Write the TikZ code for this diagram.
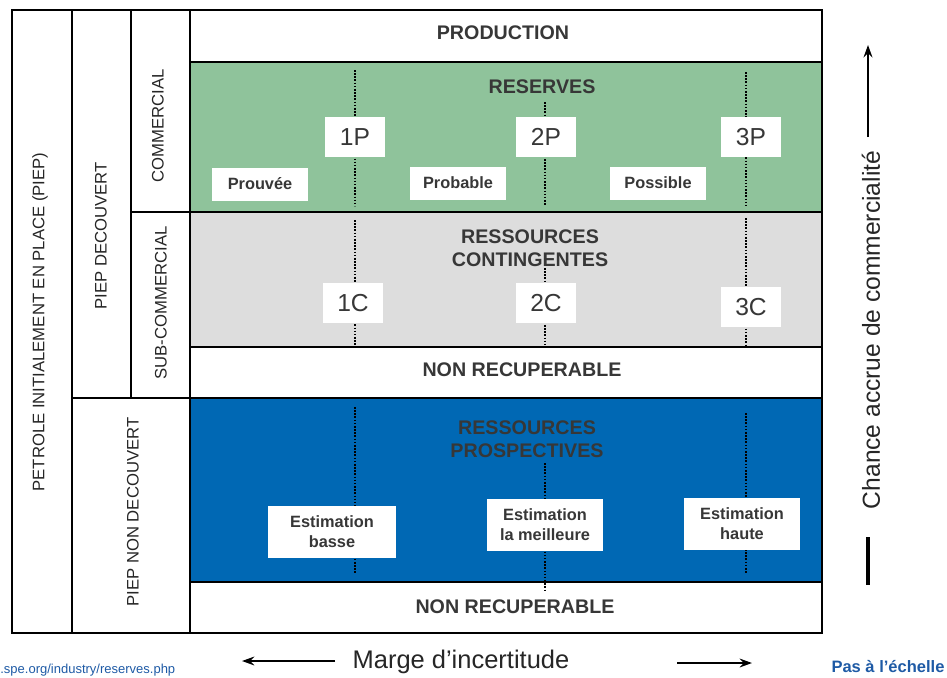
\documentclass[tikz,border=0pt]{standalone}
\usepackage{fontspec}
\setmainfont{Liberation Sans}
\usetikzlibrary{arrows.meta}
\definecolor{resgreen}{RGB}{143,195,155}
\definecolor{contgray}{RGB}{221,221,221}
\definecolor{prosblue}{RGB}{0,104,180}
\definecolor{headgray}{RGB}{55,55,55}
\definecolor{linkblue}{RGB}{30,90,165}
\tikzset{
  cellline/.style={line width=1.6pt},
  guide/.style={line width=0.9pt,dash pattern=on 0.9pt off 0.9pt},
  head/.style={font=\fontsize{11.2}{13}\selectfont\bfseries,text=headgray,align=center},
  side/.style={rotate=90,font=\fontsize{9.5}{11}\selectfont,text=black!85},
  levelbox/.style={fill=white,minimum width=1.2cm,minimum height=0.8cm,font=\fontsize{14}{16}\selectfont,text=headgray},
  catbox/.style={fill=white,minimum width=1.92cm,minimum height=0.66cm,font=\fontsize{9.3}{11}\selectfont\bfseries,text=headgray},
  estbox/.style={fill=white,minimum width=2.4cm,minimum height=1.04cm,align=center,font=\fontsize{9.3}{11.3}\selectfont\bfseries,text=headgray},
  axisarrow/.style={line width=1.1pt,-{Stealth[length=7pt,width=5pt]}}
}
\begin{document}
\begin{tikzpicture}[x=0.02cm,y=-0.02cm]
\useasboundingbox (0,0) rectangle (947,677);
% coloured bands
\fill[resgreen] (190,62) rectangle (822,212);
\fill[contgray] (190,212) rectangle (822,347);
\fill[prosblue] (190,398) rectangle (822,582);
% dotted level lines
\draw[guide] (355,70) -- (355,206);
\draw[guide] (545,102) -- (545,206);
\draw[guide] (746,72) -- (746,206);
\draw[guide] (355,220) -- (355,345);
\draw[guide] (545,268) -- (545,345);
\draw[guide] (746,218) -- (746,345);
\draw[guide] (355,407) -- (355,573);
\draw[guide] (545,463) -- (545,590);
\draw[guide] (746,413) -- (746,573);
% reserves
\node[head] (reserves) at (542,87) {RESERVES};
\node[levelbox] (p1) at (355,137) {1P};
\node[levelbox] (p2) at (546,137) {2P};
\node[levelbox] (p3) at (751,137) {3P};
\node[catbox] (prouvee) at (260,184) {Prouvée};
\node[catbox] (probable) at (458,183) {Probable};
\node[catbox] (possible) at (658,183) {Possible};
% contingent resources
\node[head] (contingent) at (530,248) {RESSOURCES\\CONTINGENTES};
\node[levelbox] (c1) at (353,303) {1C};
\node[levelbox] (c2) at (546,303) {2C};
\node[levelbox] (c3) at (751,307) {3C};
% prospective resources
\node[head] (prospect) at (527,439) {RESSOURCES\\PROSPECTIVES};
\node[estbox,minimum width=2.58cm] (low) at (332,532) {Estimation\\basse};
\node[estbox,minimum width=2.32cm] (best) at (545,525) {Estimation\\la meilleure};
\node[estbox,minimum width=2.34cm] (high) at (742,524) {Estimation\\haute};
% other rows
\node[head] (production) at (503,33) {PRODUCTION};
\node[head] (nonrec1) at (522,370) {NON RECUPERABLE};
\node[head] (nonrec2) at (515,607) {NON RECUPERABLE};
% grid
\draw[cellline] (12,10) rectangle (822,633);
\draw[cellline] (72,10) -- (72,633);
\draw[cellline] (131,10) -- (131,398);
\draw[cellline] (190,10) -- (190,633);
\draw[cellline] (131,212) -- (822,212);
\draw[cellline] (72,398) -- (822,398);
\draw[cellline] (190,62) -- (822,62);
\draw[cellline] (190,347) -- (822,347);
\draw[cellline] (190,582) -- (822,582);
% left labels
\node[side] (piep) at (40,322) {PETROLE INITIALEMENT EN PLACE (PIEP)};
\node[side] (found) at (101,236) {PIEP DECOUVERT};
\node[side] (commercial) at (158,126) {COMMERCIAL};
\node[side] (subcom) at (161,303) {SUB-COMMERCIAL};
\node[side] (notfound) at (133,512) {PIEP NON DECOUVERT};
% axes
\node[font=\fontsize{14.5}{16}\selectfont,text=black!85] (marge) at (461,662) {Marge d’incertitude};
\coordinate (mleft0) at (335,661);
\coordinate (mleft1) at (242,661);
\coordinate (mright0) at (677,663);
\coordinate (mright1) at (752,663);
\draw[axisarrow] (mleft0) -- (mleft1);
\draw[axisarrow] (mright0) -- (mright1);
\node[rotate=90,font=\fontsize{14}{16}\selectfont,text=black!85] (chance) at (871,330) {Chance accrue de commercialité};
\coordinate (cup0) at (868,137);
\coordinate (cup1) at (868,45);
\coordinate (clow0) at (868,537);
\coordinate (clow1) at (868,585);
\draw[axisarrow] (cup0) -- (cup1);
\draw[line width=1.8pt] (clow0) -- (clow1);
\node[anchor=west,inner sep=0pt,font=\fontsize{7.4}{9}\selectfont,text=linkblue] (source) at (0,670) {.spe.org/industry/reserves.php};
\node[font=\fontsize{9.4}{11}\selectfont\bfseries,text=linkblue] (scale) at (888,667) {Pas à l’échelle};
\end{tikzpicture}
\end{document}
